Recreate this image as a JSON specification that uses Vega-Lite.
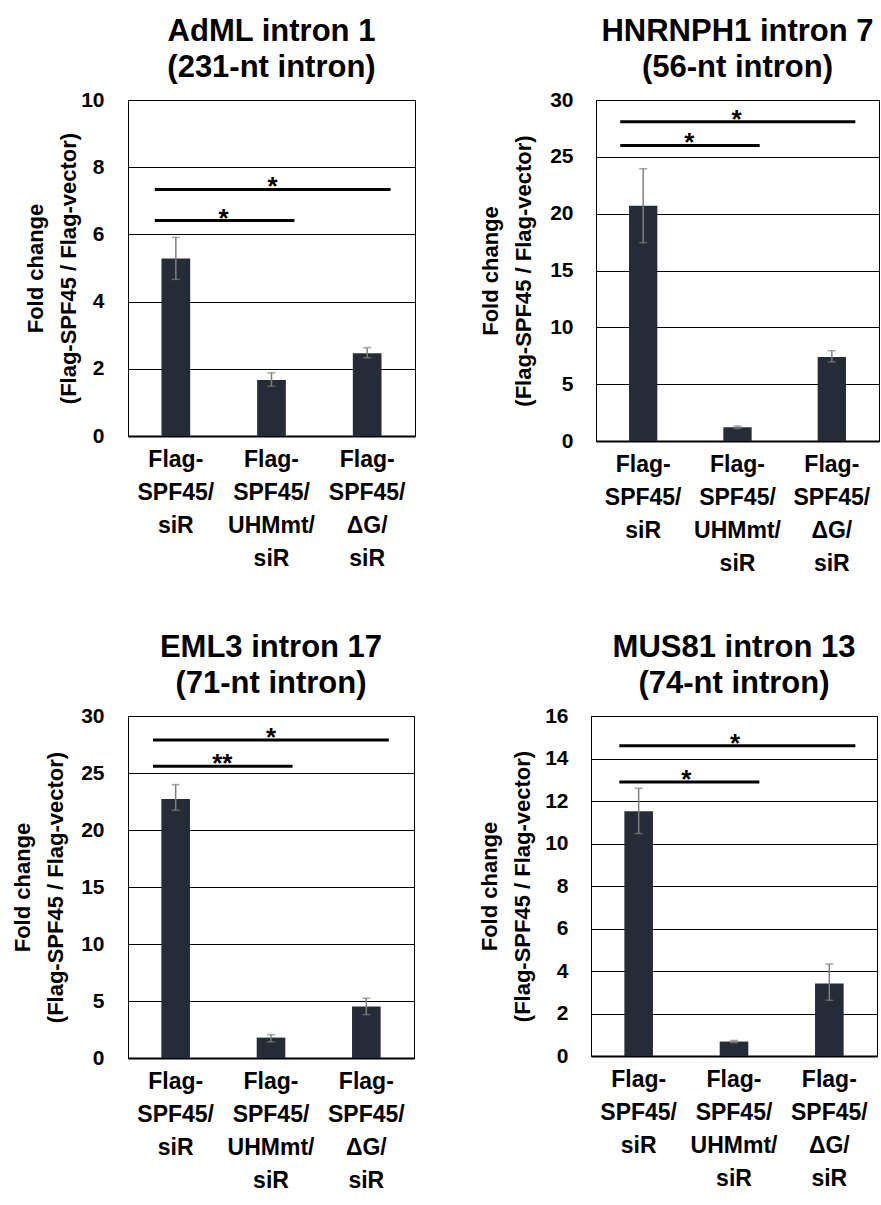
{
  "$schema": "https://vega.github.io/schema/vega-lite/v6.json",
  "background": "white",
  "padding": {"left": 11, "top": 15, "right": 0, "bottom": 0},
  "datasets": {
    "bars": [
      {"panel": "AdML", "cond": "Flag-\nSPF45/\nsiR", "value": 5.28, "lo": 4.66, "hi": 5.91},
      {"panel": "AdML", "cond": "Flag-\nSPF45/\nUHMmt/\nsiR", "value": 1.67, "lo": 1.48, "hi": 1.88},
      {"panel": "AdML", "cond": "Flag-\nSPF45/\nΔG/\nsiR", "value": 2.46, "lo": 2.33, "hi": 2.63},
      {"panel": "HNRNPH1", "cond": "Flag-\nSPF45/\nsiR", "value": 20.7, "lo": 17.45, "hi": 23.95},
      {"panel": "HNRNPH1", "cond": "Flag-\nSPF45/\nUHMmt/\nsiR", "value": 1.2, "lo": 1.1, "hi": 1.32},
      {"panel": "HNRNPH1", "cond": "Flag-\nSPF45/\nΔG/\nsiR", "value": 7.4, "lo": 6.95, "hi": 7.95},
      {"panel": "EML3", "cond": "Flag-\nSPF45/\nsiR", "value": 22.72, "lo": 21.73, "hi": 23.98},
      {"panel": "EML3", "cond": "Flag-\nSPF45/\nUHMmt/\nsiR", "value": 1.79, "lo": 1.42, "hi": 2.05},
      {"panel": "EML3", "cond": "Flag-\nSPF45/\nΔG/\nsiR", "value": 4.51, "lo": 3.8, "hi": 5.24},
      {"panel": "MUS81", "cond": "Flag-\nSPF45/\nsiR", "value": 11.52, "lo": 10.47, "hi": 12.6},
      {"panel": "MUS81", "cond": "Flag-\nSPF45/\nUHMmt/\nsiR", "value": 0.68, "lo": 0.63, "hi": 0.73},
      {"panel": "MUS81", "cond": "Flag-\nSPF45/\nΔG/\nsiR", "value": 3.41, "lo": 2.62, "hi": 4.33}
    ],
    "sig": [
      {"panel": "AdML", "x1": 0.28, "x2": 2.745, "xm": 1.51, "y": 7.34, "star": "*"},
      {"panel": "AdML", "x1": 0.28, "x2": 1.74, "xm": 1.0, "y": 6.41, "star": "*"},
      {"panel": "HNRNPH1", "x1": 0.257, "x2": 2.749, "xm": 1.49, "y": 28.08, "star": "*"},
      {"panel": "HNRNPH1", "x1": 0.257, "x2": 1.735, "xm": 0.99, "y": 26.0, "star": "*"},
      {"panel": "EML3", "x1": 0.262, "x2": 2.736, "xm": 1.5, "y": 27.9, "star": "*"},
      {"panel": "EML3", "x1": 0.262, "x2": 1.726, "xm": 0.99, "y": 25.6, "star": "**"},
      {"panel": "MUS81", "x1": 0.297, "x2": 2.773, "xm": 1.51, "y": 14.6, "star": "*"},
      {"panel": "MUS81", "x1": 0.297, "x2": 1.766, "xm": 1.0, "y": 12.9, "star": "*"}
    ]
  },
  "vconcat": [
    {
      "hconcat": [
        {
          "width": 287, "height": 336,
          "title": {"text": ["AdML intron 1", "(231-nt intron)"]},
          "layer": [
            {
              "data": {"name": "bars"},
              "transform": [{"filter": "datum.panel === 'AdML'"}],
              "encoding": {"x": {"field": "cond", "type": "nominal", "sort": null, "scale": {"paddingInner": 0.7, "paddingOuter": 0.35},
                "axis": {"title": null, "labelAngle": 0, "labelFontSize": 23, "labelLineHeight": 33, "labelPadding": 12, "ticks": false, "domainColor": "#000", "domainWidth": 2, "labelExpr": "split(datum.label, '\\n')", "labelBaseline": "top"}}},
              "layer": [
                {"mark": {"type": "bar", "color": "#252b37"}, "encoding": {"y": {"field": "value", "type": "quantitative", "scale": {"domain": [0, 10], "nice": false},
                  "axis": {"values": [0, 2, 4, 6, 8, 10], "grid": true, "gridColor": "#000", "gridWidth": 1, "domain": false, "ticks": false, "labelFontSize": 21, "labelPadding": 24, "title": ["Fold change", "(Flag-SPF45 / Flag-vector)"], "titleFontSize": 22, "titleLineHeight": 33, "titlePadding": 0}}}},
                {"mark": {"type": "rule", "color": "#7f7f7f", "strokeWidth": 1.5}, "encoding": {"y": {"field": "lo", "type": "quantitative"}, "y2": {"field": "hi"}}},
                {"mark": {"type": "tick", "color": "#7f7f7f", "size": 8, "thickness": 1.5, "orient": "horizontal"}, "encoding": {"y": {"field": "lo", "type": "quantitative"}}},
                {"mark": {"type": "tick", "color": "#7f7f7f", "size": 8, "thickness": 1.5, "orient": "horizontal"}, "encoding": {"y": {"field": "hi", "type": "quantitative"}}}
              ]
            },
            {
              "data": {"name": "sig"},
              "transform": [{"filter": "datum.panel === 'AdML'"}],
              "layer": [
                {"mark": {"type": "rule", "strokeWidth": 3, "color": "#000"}, "encoding": {"x": {"field": "x1", "type": "quantitative", "scale": {"domain": [0, 3], "nice": false, "zero": false}, "axis": null}, "x2": {"field": "x2"}, "y": {"field": "y", "type": "quantitative"}}},
                {"mark": {"type": "text", "fontSize": 26, "fontWeight": "bold", "font": "Liberation Sans", "baseline": "alphabetic", "dy": 6, "color": "#000"}, "encoding": {"x": {"field": "xm", "type": "quantitative", "scale": {"domain": [0, 3], "nice": false, "zero": false}, "axis": null}, "y": {"field": "y", "type": "quantitative"}, "text": {"field": "star"}}}
              ]
            }
          ],
          "resolve": {"scale": {"x": "independent"}, "axis": {"x": "independent"}}
        },
        {
          "width": 283, "height": 341,
          "title": {"text": ["HNRNPH1 intron 7", "(56-nt intron)"]},
          "layer": [
            {
              "data": {"name": "bars"},
              "transform": [{"filter": "datum.panel === 'HNRNPH1'"}],
              "encoding": {"x": {"field": "cond", "type": "nominal", "sort": null, "scale": {"paddingInner": 0.7, "paddingOuter": 0.35},
                "axis": {"title": null, "labelAngle": 0, "labelFontSize": 23, "labelLineHeight": 33, "labelPadding": 12, "ticks": false, "domainColor": "#000", "domainWidth": 2, "labelExpr": "split(datum.label, '\\n')", "labelBaseline": "top"}}},
              "layer": [
                {"mark": {"type": "bar", "color": "#252b37"}, "encoding": {"y": {"field": "value", "type": "quantitative", "scale": {"domain": [0, 30], "nice": false},
                  "axis": {"values": [0, 5, 10, 15, 20, 25, 30], "grid": true, "gridColor": "#000", "gridWidth": 1, "domain": false, "ticks": false, "labelFontSize": 21, "labelPadding": 23, "title": ["Fold change", "(Flag-SPF45 / Flag-vector)"], "titleFontSize": 22, "titleLineHeight": 33, "titlePadding": 14}}}},
                {"mark": {"type": "rule", "color": "#7f7f7f", "strokeWidth": 1.5}, "encoding": {"y": {"field": "lo", "type": "quantitative"}, "y2": {"field": "hi"}}},
                {"mark": {"type": "tick", "color": "#7f7f7f", "size": 8, "thickness": 1.5, "orient": "horizontal"}, "encoding": {"y": {"field": "lo", "type": "quantitative"}}},
                {"mark": {"type": "tick", "color": "#7f7f7f", "size": 8, "thickness": 1.5, "orient": "horizontal"}, "encoding": {"y": {"field": "hi", "type": "quantitative"}}}
              ]
            },
            {
              "data": {"name": "sig"},
              "transform": [{"filter": "datum.panel === 'HNRNPH1'"}],
              "layer": [
                {"mark": {"type": "rule", "strokeWidth": 3, "color": "#000"}, "encoding": {"x": {"field": "x1", "type": "quantitative", "scale": {"domain": [0, 3], "nice": false, "zero": false}, "axis": null}, "x2": {"field": "x2"}, "y": {"field": "y", "type": "quantitative"}}},
                {"mark": {"type": "text", "fontSize": 26, "fontWeight": "bold", "font": "Liberation Sans", "baseline": "alphabetic", "dy": 6, "color": "#000"}, "encoding": {"x": {"field": "xm", "type": "quantitative", "scale": {"domain": [0, 3], "nice": false, "zero": false}, "axis": null}, "y": {"field": "y", "type": "quantitative"}, "text": {"field": "star"}}}
              ]
            }
          ],
          "resolve": {"scale": {"x": "independent"}, "axis": {"x": "independent"}}
        }
      ],
      "spacing": 63
    },
    {
      "hconcat": [
        {
          "width": 286, "height": 342,
          "title": {"text": ["EML3 intron 17", "(71-nt intron)"]},
          "layer": [
            {
              "data": {"name": "bars"},
              "transform": [{"filter": "datum.panel === 'EML3'"}],
              "encoding": {"x": {"field": "cond", "type": "nominal", "sort": null, "scale": {"paddingInner": 0.7, "paddingOuter": 0.35},
                "axis": {"title": null, "labelAngle": 0, "labelFontSize": 23, "labelLineHeight": 33, "labelPadding": 12, "ticks": false, "domainColor": "#000", "domainWidth": 2, "labelExpr": "split(datum.label, '\\n')", "labelBaseline": "top"}}},
              "layer": [
                {"mark": {"type": "bar", "color": "#252b37"}, "encoding": {"y": {"field": "value", "type": "quantitative", "scale": {"domain": [0, 30], "nice": false},
                  "axis": {"values": [0, 5, 10, 15, 20, 25, 30], "grid": true, "gridColor": "#000", "gridWidth": 1, "domain": false, "ticks": false, "labelFontSize": 21, "labelPadding": 24, "title": ["Fold change", "(Flag-SPF45 / Flag-vector)"], "titleFontSize": 22, "titleLineHeight": 33, "titlePadding": 13}}}},
                {"mark": {"type": "rule", "color": "#7f7f7f", "strokeWidth": 1.5}, "encoding": {"y": {"field": "lo", "type": "quantitative"}, "y2": {"field": "hi"}}},
                {"mark": {"type": "tick", "color": "#7f7f7f", "size": 8, "thickness": 1.5, "orient": "horizontal"}, "encoding": {"y": {"field": "lo", "type": "quantitative"}}},
                {"mark": {"type": "tick", "color": "#7f7f7f", "size": 8, "thickness": 1.5, "orient": "horizontal"}, "encoding": {"y": {"field": "hi", "type": "quantitative"}}}
              ]
            },
            {
              "data": {"name": "sig"},
              "transform": [{"filter": "datum.panel === 'EML3'"}],
              "layer": [
                {"mark": {"type": "rule", "strokeWidth": 3, "color": "#000"}, "encoding": {"x": {"field": "x1", "type": "quantitative", "scale": {"domain": [0, 3], "nice": false, "zero": false}, "axis": null}, "x2": {"field": "x2"}, "y": {"field": "y", "type": "quantitative"}}},
                {"mark": {"type": "text", "fontSize": 26, "fontWeight": "bold", "font": "Liberation Sans", "baseline": "alphabetic", "dy": 6, "color": "#000"}, "encoding": {"x": {"field": "xm", "type": "quantitative", "scale": {"domain": [0, 3], "nice": false, "zero": false}, "axis": null}, "y": {"field": "y", "type": "quantitative"}, "text": {"field": "star"}}}
              ]
            }
          ],
          "resolve": {"scale": {"x": "independent"}, "axis": {"x": "independent"}}
        },
        {
          "width": 286, "height": 340,
          "title": {"text": ["MUS81 intron 13", "(74-nt intron)"]},
          "layer": [
            {
              "data": {"name": "bars"},
              "transform": [{"filter": "datum.panel === 'MUS81'"}],
              "encoding": {"x": {"field": "cond", "type": "nominal", "sort": null, "scale": {"paddingInner": 0.7, "paddingOuter": 0.35},
                "axis": {"title": null, "labelAngle": 0, "labelFontSize": 23, "labelLineHeight": 33, "labelPadding": 12, "ticks": false, "domainColor": "#000", "domainWidth": 2, "labelExpr": "split(datum.label, '\\n')", "labelBaseline": "top"}}},
              "layer": [
                {"mark": {"type": "bar", "color": "#252b37"}, "encoding": {"y": {"field": "value", "type": "quantitative", "scale": {"domain": [0, 16], "nice": false},
                  "axis": {"values": [0, 2, 4, 6, 8, 10, 12, 14, 16], "grid": true, "gridColor": "#000", "gridWidth": 1, "domain": false, "ticks": false, "labelFontSize": 21, "labelPadding": 23, "title": ["Fold change", "(Flag-SPF45 / Flag-vector)"], "titleFontSize": 22, "titleLineHeight": 33, "titlePadding": 10}}}},
                {"mark": {"type": "rule", "color": "#7f7f7f", "strokeWidth": 1.5}, "encoding": {"y": {"field": "lo", "type": "quantitative"}, "y2": {"field": "hi"}}},
                {"mark": {"type": "tick", "color": "#7f7f7f", "size": 8, "thickness": 1.5, "orient": "horizontal"}, "encoding": {"y": {"field": "lo", "type": "quantitative"}}},
                {"mark": {"type": "tick", "color": "#7f7f7f", "size": 8, "thickness": 1.5, "orient": "horizontal"}, "encoding": {"y": {"field": "hi", "type": "quantitative"}}}
              ]
            },
            {
              "data": {"name": "sig"},
              "transform": [{"filter": "datum.panel === 'MUS81'"}],
              "layer": [
                {"mark": {"type": "rule", "strokeWidth": 3, "color": "#000"}, "encoding": {"x": {"field": "x1", "type": "quantitative", "scale": {"domain": [0, 3], "nice": false, "zero": false}, "axis": null}, "x2": {"field": "x2"}, "y": {"field": "y", "type": "quantitative"}}},
                {"mark": {"type": "text", "fontSize": 26, "fontWeight": "bold", "font": "Liberation Sans", "baseline": "alphabetic", "dy": 6, "color": "#000"}, "encoding": {"x": {"field": "xm", "type": "quantitative", "scale": {"domain": [0, 3], "nice": false, "zero": false}, "axis": null}, "y": {"field": "y", "type": "quantitative"}, "text": {"field": "star"}}}
              ]
            }
          ],
          "resolve": {"scale": {"x": "independent"}, "axis": {"x": "independent"}}
        }
      ],
      "spacing": 63
    }
  ],
  "spacing": 55,
  "config": {
    "view": {"stroke": "#000", "strokeWidth": 1},
    "axis": {"labelFont": "Liberation Sans", "titleFont": "Liberation Sans", "labelFontWeight": "bold", "titleFontWeight": "bold", "labelColor": "#000", "titleColor": "#000"},
    "title": {"font": "Liberation Sans", "fontSize": 31, "fontWeight": "bold", "lineHeight": 36, "color": "#000", "anchor": "middle", "frame": "group", "offset": 5}
  }
}
